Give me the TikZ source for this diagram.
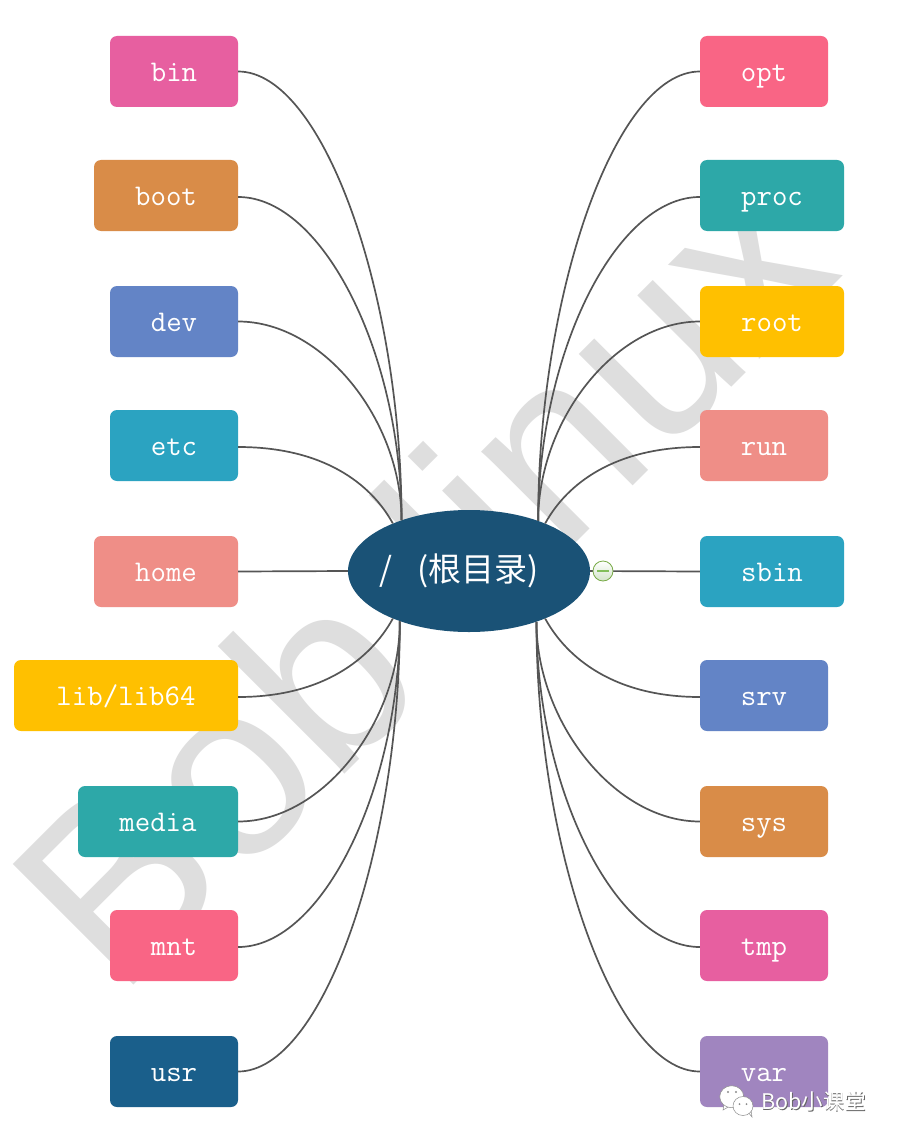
\documentclass[tikz,border=0pt]{standalone}
\usepackage{fontspec}
\setmainfont{Liberation Sans}
\newfontfamily\cjk{Noto Sans CJK SC}
\usetikzlibrary{shapes.geometric}
\definecolor{cpink}{HTML}{E75FA0}
\definecolor{corange}{HTML}{D98C48}
\definecolor{cblue}{HTML}{6384C6}
\definecolor{ccyan}{HTML}{2BA3C1}
\definecolor{csalmon}{HTML}{EF8E87}
\definecolor{cyellow}{HTML}{FFC000}
\definecolor{cteal}{HTML}{2DA8A8}
\definecolor{crose}{HTML}{F96585}
\definecolor{cnavy}{HTML}{1A5F8B}
\definecolor{cpurple}{HTML}{A085BF}
\definecolor{chub}{HTML}{1A5276}
\definecolor{cline}{HTML}{555555}
\definecolor{cmark}{HTML}{DEDEDE}
\tikzset{
  box/.style={rectangle,rounded corners=7pt,minimum height=71pt,inner sep=0pt,text=white,text height=20pt,text depth=0pt,font=\ttfamily\fontsize{30}{30}\selectfont},
  wide/.style={minimum width=#1},
  link/.style={draw=cline,line width=1.7pt},
}
\begin{document}
\begin{tikzpicture}[x=1pt,y=-1pt]
\useasboundingbox (0,0) rectangle (896,1142);
\fill[white] (0,0) rectangle (896,1142);
\node[anchor=base west,rotate=45,inner sep=0pt,text=cmark,font=\fontsize{248}{248}\selectfont] (wm) at (119,1000) {Bob\hspace{76pt}linux};
% boxes left
\node[box,wide=128pt,fill=cpink] (bin) at (174,71.5) {bin};
\node[box,wide=144pt,fill=corange] (boot) at (166,195.5) {boot};
\node[box,wide=128pt,fill=cblue] (dev) at (174,321.5) {dev};
\node[box,wide=128pt,fill=ccyan] (etc) at (174,445.5) {etc};
\node[box,wide=144pt,fill=csalmon] (home) at (166,571.5) {home};
\node[box,wide=224pt,fill=cyellow] (lib) at (126,695.5) {lib/lib64};
\node[box,wide=160pt,fill=cteal] (media) at (158,821.5) {media};
\node[box,wide=128pt,fill=crose] (mnt) at (174,945.5) {mnt};
\node[box,wide=128pt,fill=cnavy] (usr) at (174,1071.5) {usr};
% boxes right
\node[box,wide=128pt,fill=crose] (opt) at (764,71.5) {opt};
\node[box,wide=144pt,fill=cteal] (proc) at (772,195.5) {proc};
\node[box,wide=144pt,fill=cyellow] (root) at (772,321.5) {root};
\node[box,wide=128pt,fill=csalmon] (run) at (764,445.5) {run};
\node[box,wide=144pt,fill=ccyan] (sbin) at (772,571.5) {sbin};
\node[box,wide=128pt,fill=cblue] (srv) at (764,695.5) {srv};
\node[box,wide=128pt,fill=corange] (sys) at (764,821.5) {sys};
\node[box,wide=128pt,fill=cpink] (tmp) at (764,945.5) {tmp};
\node[box,wide=128pt,fill=cpurple] (var) at (764,1071.5) {var};
% hub
\node[ellipse,fill=chub,minimum width=242pt,minimum height=122pt,inner sep=0pt,text=white,font=\cjk\fontsize{33}{33}\selectfont] (hub) at (469,571) {\makebox[0pt][c]{/\hspace{25pt}(根目录)\hspace*{19pt}}};
% connectors left
\draw[link] (bin.east) .. controls +(85,0) and +(0,-225) .. (hub.143.5);
\draw[link] ([yshift=-1.5pt]boot.east) .. controls +(85,0) and +(0,-165) .. (hub.143.5);
\draw[link] (dev.east) .. controls +(85,0) and +(0,-100) .. (hub.143.5);
\draw[link] ([yshift=-1.5pt]etc.east) .. controls +(85,0) and +(-22,-40) .. (hub.148);
\draw[link] (home.east) -- (hub.west);
\draw[link] ([yshift=-1.5pt]lib.east) .. controls +(85,0) and +(-22,40) .. (hub.212);
\draw[link] (media.east) .. controls +(85,0) and +(0,100) .. (hub.216.5);
\draw[link] ([yshift=-1.5pt]mnt.east) .. controls +(85,0) and +(0,165) .. (hub.216.5);
\draw[link] (usr.east) .. controls +(85,0) and +(0,225) .. (hub.216.5);
% connectors right
\draw[link] (opt.west) .. controls +(-85,0) and +(0,-225) .. (hub.36.5);
\draw[link] ([yshift=-1.5pt]proc.west) .. controls +(-85,0) and +(0,-165) .. (hub.36.5);
\draw[link] (root.west) .. controls +(-85,0) and +(0,-100) .. (hub.36.5);
\draw[link] ([yshift=-1.5pt]run.west) .. controls +(-85,0) and +(22,-40) .. (hub.32);
\draw[link] (sbin.west) -- (hub.east);
\draw[link] ([yshift=-1.5pt]srv.west) .. controls +(-85,0) and +(22,40) .. (hub.328);
\draw[link] (sys.west) .. controls +(-85,0) and +(0,100) .. (hub.323.5);
\draw[link] ([yshift=-1.5pt]tmp.west) .. controls +(-85,0) and +(0,165) .. (hub.323.5);
\draw[link] (var.west) .. controls +(-85,0) and +(0,225) .. (hub.323.5);
% collapse button
\node[circle,draw={rgb,255:red,120;green,170;blue,70},line width=0.8pt,top color=white,bottom color={rgb,255:red,210;green,228;blue,200},minimum size=20pt,inner sep=0pt] (btn) at (603,571) {};
\draw[line width=1.2pt,draw={rgb,255:red,130;green,190;blue,90}] ([xshift=-6pt]btn.center) -- ([xshift=6pt]btn.center);
% wechat mark
\fill[white,draw=black!45,line width=0.5pt] (724,1104) -- (723,1110) -- (730,1106) -- cycle;
\fill[white,draw=black!45,line width=0.5pt] (731.7,1096.7) ellipse (12 and 11);
\fill[white,draw=black!45,line width=0.5pt] (748,1112) -- (752,1117) -- (751,1110) -- cycle;
\fill[white,draw=black!45,line width=0.5pt] (743,1106) ellipse (10 and 9.5);
\fill[black!45] (728,1092) circle (1.2) (736,1092) circle (1.2) (739.5,1104) circle (1) (746.5,1104) circle (1);
\node[anchor=west,inner sep=0pt,font=\cjk\fontsize{21.5}{22}\selectfont] (brand) at (761,1102) {\rlap{\kern0.7pt\raisebox{-0.7pt}{\textcolor{black!60}{Bob小课堂}}}\textcolor{white}{Bob小课堂}};
\end{tikzpicture}
\end{document}
